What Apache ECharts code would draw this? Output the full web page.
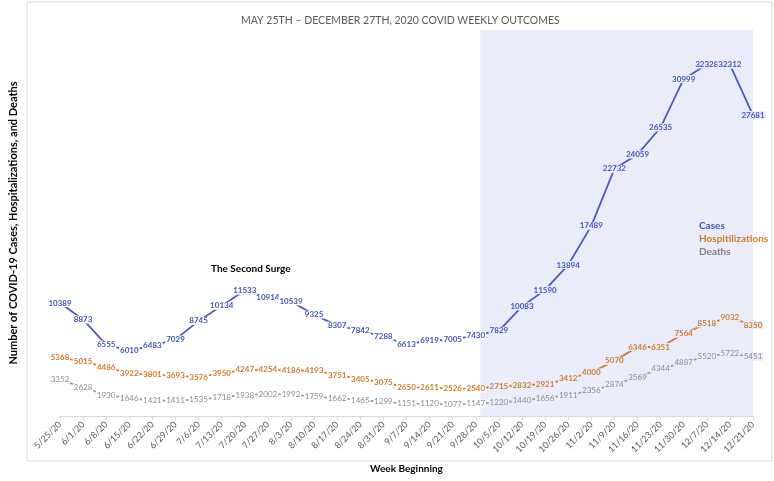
<!DOCTYPE html>
<html><head><meta charset="utf-8">
<script src="https://cdn.jsdelivr.net/npm/echarts@6/dist/echarts.min.js"></script>
<style>html,body{margin:0;padding:0;background:#fff}#c{width:774px;height:481px}</style>
</head><body><div id="c"></div>
<script>
const weeks = ['5/25/20','6/1/20','6/8/20','6/15/20','6/22/20','6/29/20','7/6/20','7/13/20','7/20/20','7/27/20','8/3/20','8/10/20','8/17/20','8/24/20','8/31/20','9/7/20','9/14/20','9/21/20','9/28/20','10/5/20','10/12/20','10/19/20','10/26/20','11/2/20','11/9/20','11/16/20','11/23/20','11/30/20','12/7/20','12/14/20','12/21/20'];
const cases = [10389,8873,6555,6010,6483,7029,8745,10134,11533,10914,10539,9325,8307,7842,7288,6613,6919,7005,7430,7829,10083,11590,13894,17489,22732,24059,26535,30999,32328,32312,27681];
const hosp = [5368,5015,4486,3922,3801,3693,3576,3950,4247,4254,4186,4193,3751,3405,3075,2650,2611,2526,2540,2715,2832,2921,3412,4000,5070,6346,6351,7564,8518,9032,8350];
const deaths = [3352,2628,1930,1646,1421,1411,1535,1718,1938,2002,1992,1759,1662,1465,1299,1151,1120,1077,1147,1220,1440,1656,1911,2356,2874,3569,4344,4887,5520,5722,5451];
const surgeStart = 18.2, surgeEnd = 30.4; // band in week-index units
const bandColor = '#EAEDF9';
const FONT = 'Lato';

function items(vals){
  return vals.map((v,i)=>({value:v, label:{backgroundColor: i>=19 ? bandColor : '#ffffff'}}));
}
function lineSeries(name, vals, color, labelColor, bold){
  return {
    name, type:'line', data: items(vals), symbol:'circle', symbolSize:0.1, showSymbol:true, z:3,
    lineStyle:{color, width:1.8}, itemStyle:{color:'rgba(0,0,0,0)'},
    labelLayout:{hideOverlap:false},
    label:{show:true, position:'inside', color:labelColor, fontSize:8, fontFamily:FONT,
      fontWeight: bold ? 'bold':'normal', padding:[0,1]}
  };
}
const chart = echarts.init(document.getElementById('c'));
chart.setOption({
  animation:false,
  textStyle:{fontFamily:FONT},
  title:{text:'MAY 25TH – DECEMBER 27TH, 2020 COVID WEEKLY OUTCOMES', left:236, top:10,
    textStyle:{fontSize:10.5, fontWeight:'normal', color:'#595959', fontFamily:FONT}},
  legend:{orient:'vertical', left:688, top:216, itemWidth:0, itemHeight:0, itemGap:3,
    textStyle:{fontSize:10, fontWeight:'bold', fontFamily:FONT},
    data:[{name:'Cases', textStyle:{color:'#3E55B8'}},{name:'Hospitilizations', textStyle:{color:'#D07A2C'}},{name:'Deaths', textStyle:{color:'#7F7F7F'}}]},
  grid:{left:55, right:21, top:30, bottom:65},
  xAxis:[{type:'category', data:weeks, boundaryGap:false,
    axisLine:{lineStyle:{color:'#D9D9D9'}}, axisTick:{show:true, length:4, lineStyle:{color:'#D9D9D9'}},
    axisLabel:{rotate:45, fontSize:9, color:'#595959', fontFamily:FONT, margin:7},
    name:'Week Beginning', nameLocation:'middle', nameGap:48,
    nameTextStyle:{fontSize:10, fontWeight:'bold', color:'#000', fontFamily:FONT}},
    {type:'value', min:0, max:30, show:false}],
  yAxis:{type:'value', min:0, max:35500, splitLine:{show:false}, axisLabel:{show:false}, axisLine:{show:false}, axisTick:{show:false},
    name:'Number of COVID-19 Cases, Hospitalizations, and Deaths', nameLocation:'middle', nameGap:41, nameRotate:90,
    nameTextStyle:{fontSize:11, fontWeight:'bold', color:'#000', fontFamily:FONT}},
  graphic:[
    {type:'rect', shape:{x:27, y:2, width:745, height:459}, style:{fill:null, stroke:'#D9D9D9', lineWidth:1}, z:-10, silent:true},
    {type:'text', left:211, top:264, style:{text:'The Second Surge', fontSize:10, fontWeight:'bold', fill:'#000', fontFamily:FONT}},
    {type:'text', left:600, top:41, style:{text:'The Third Surge', fontSize:10, fontWeight:'bold', fill:'#000', fontFamily:FONT}}
  ],
  series:[
    {type:'line', xAxisIndex:1, data:[], clip:false, silent:true,
      markArea:{silent:true, itemStyle:{color:bandColor}, data:[[{xAxis:surgeStart},{xAxis:surgeEnd}]]}},
    lineSeries('Cases', cases, '#4A5BC6', '#3E55B8', true),
    lineSeries('Hospitilizations', hosp, '#D4772A', '#D07A2C', true),
    lineSeries('Deaths', deaths, '#9A9A9A', '#8C8C8C', false)
  ]
});
</script></body></html>
